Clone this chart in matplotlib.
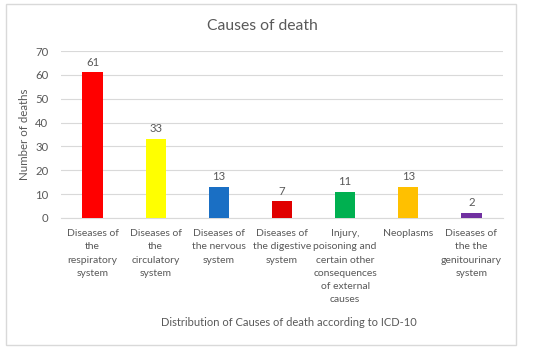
import matplotlib
matplotlib.use("Agg")
import matplotlib.pyplot as plt
from matplotlib.patches import Rectangle

categories = [
    "Diseases of\nthe\nrespiratory\nsystem",
    "Diseases of\nthe\ncirculatory\nsystem",
    "Diseases of\nthe nervous\nsystem",
    "Diseases of\nthe digestive\nsystem",
    "Injury,\npoisoning and\ncertain other\nconsequences\nof external\ncauses",
    "Neoplasms",
    "Diseases of\nthe the\ngenitourinary\nsystem",
]
values = [61, 33, 13, 7, 11, 13, 2]
colors = ["#FF0000", "#FFFF00", "#1A6FC4", "#E00000", "#00B050", "#FFC000", "#7030A0"]
yticks = [0, 10, 20, 30, 40, 50, 60, 70]

plt.rcParams['font.family'] = ['Lato', 'DejaVu Sans']
txt = "#595959"

fig = plt.figure(figsize=(5.5, 3.5), dpi=100)
fig.patches.append(Rectangle((6/550, 1-345/350), 510/550, 341/350, transform=fig.transFigure,
                             fill=False, edgecolor="#D9D9D9", linewidth=1))
ax = fig.add_axes([61/550, 1-218/350, 442/550, 167/350])
x = list(range(len(values)))
bars = ax.bar(x, values, width=0.32, color=colors, zorder=3)
for xi, v in zip(x, values):
    ax.text(xi, v + 2.0, str(v), ha="center", va="bottom", fontsize=8.2, color=txt)
ax.set_xlim(-0.5, len(values) - 0.5)
ax.set_ylim(0, 70)
ax.set_yticks(yticks)
ax.set_yticklabels([str(t) for t in yticks], fontsize=8.2, color=txt)
ax.set_xticks(x)
ax.set_xticklabels(categories, fontsize=7.5, color=txt, linespacing=1.6)
ax.tick_params(axis="both", length=0)
ax.tick_params(axis="x", pad=8)
ax.tick_params(axis="y", pad=9)
ax.grid(axis="y", color="#D9D9D9", linewidth=0.8, zorder=0)
for s in ["top", "right", "left"]:
    ax.spines[s].set_visible(False)
ax.spines["bottom"].set_color("#D9D9D9")
ax.set_ylabel("Number of deaths", fontsize=8.3, color=txt, labelpad=4)
fig.text(289/550, 1-322/350, "Distribution of Causes of death according to ICD-10",
         ha="center", va="center", fontsize=8, color=txt)
fig.text(262/550, 1-26/350, "Causes of death", ha="center", va="center", fontsize=11.3, color=txt)
fig.savefig("out.png", dpi=100)
